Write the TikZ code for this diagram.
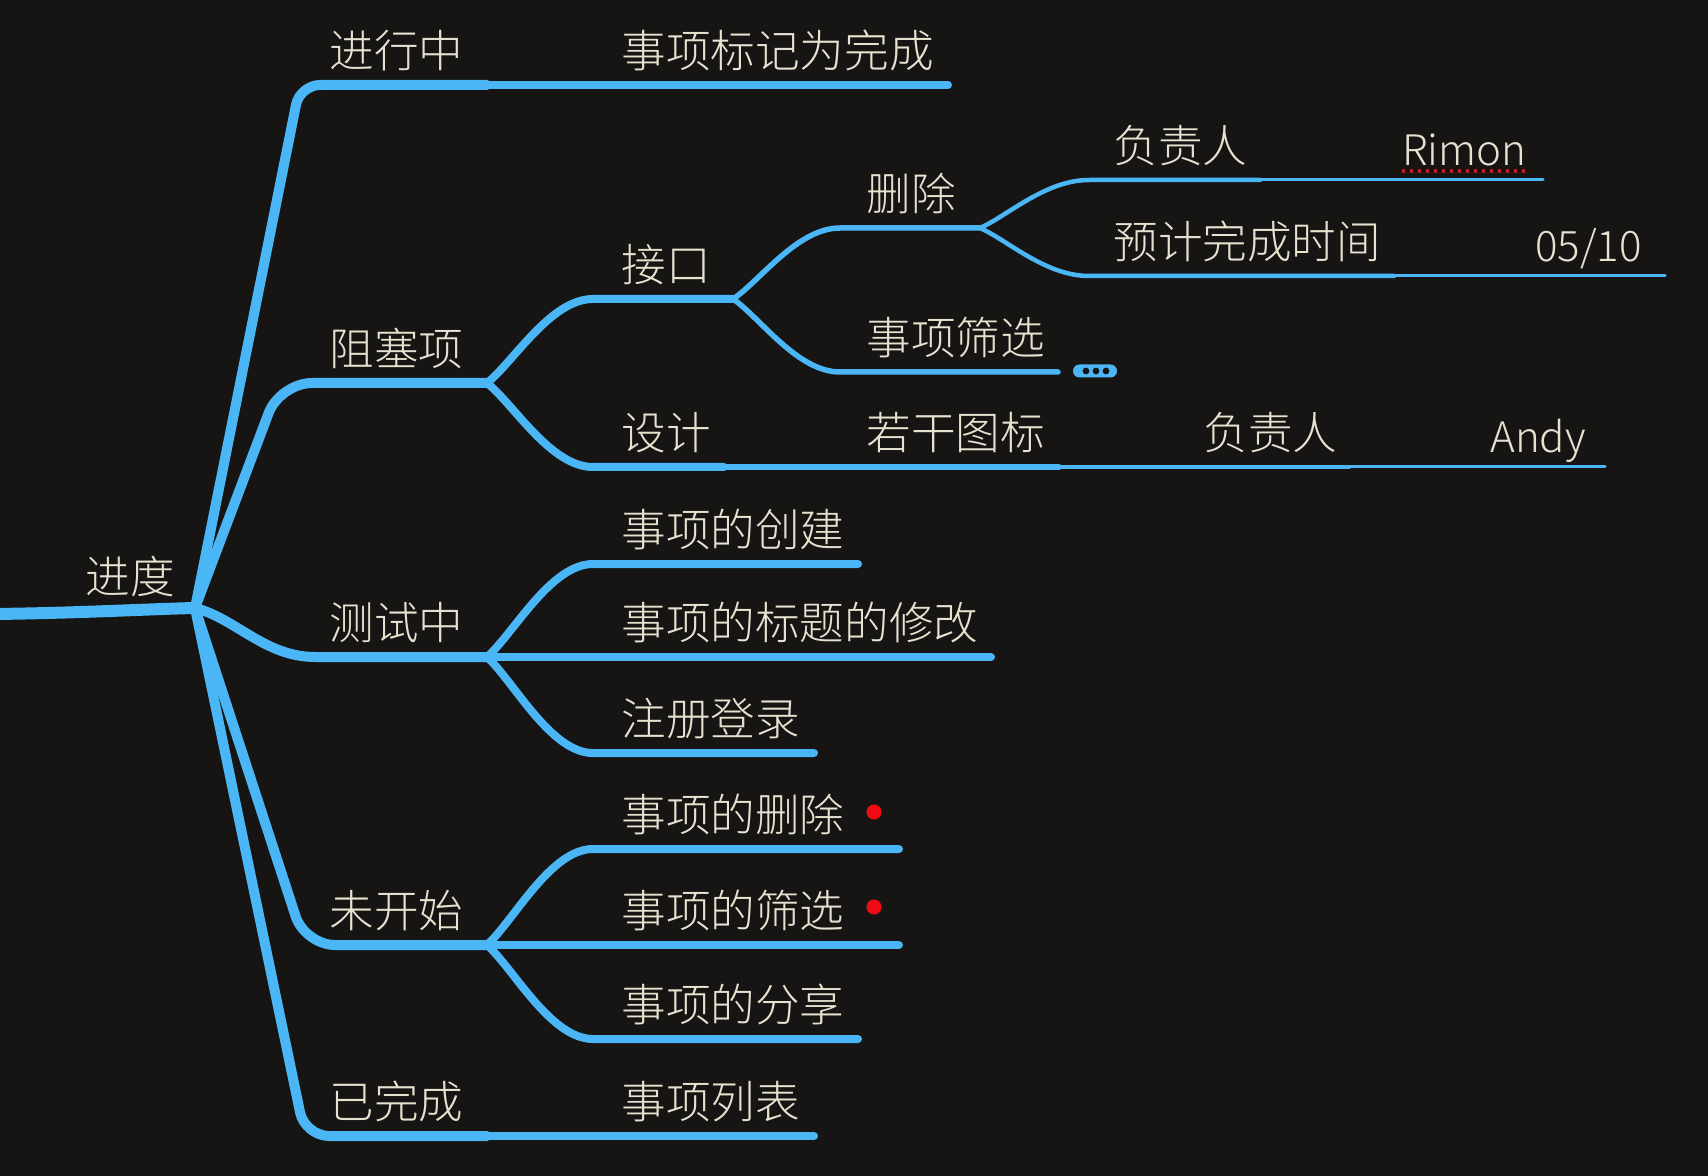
\documentclass[tikz,border=0pt]{standalone}
\usepackage{fontspec}
\IfFontExistsTF{Noto Sans CJK SC Light}
  {\setmainfont{Noto Sans CJK SC Light}}
  {\setmainfont{Noto Sans CJK SC}}
\definecolor{bgc}{RGB}{22,21,20}
\definecolor{blu}{RGB}{74,182,245}
\definecolor{txtc}{RGB}{230,226,208}
\definecolor{dotred}{RGB}{240,10,20}
\definecolor{ulred}{RGB}{190,30,40}
\begin{document}
\begin{tikzpicture}[x=0.5pt,y=-0.5pt,
  txt/.style={anchor=base west, inner sep=0pt, text=txtc, font=\fontsize{22.3pt}{26pt}\selectfont},
  lat/.style={anchor=base west, inner sep=0pt, text=txtc, font=\fontsize{21pt}{25pt}\selectfont},
  lroot/.style={draw=blu, line width=6pt, line cap=round},
  lone/.style={draw=blu, line width=5pt, line cap=round},
  ltwo/.style={draw=blu, line width=4pt, line cap=round},
  lthree/.style={draw=blu, line width=2.75pt, line cap=round},
  lfour/.style={draw=blu, line width=2.25pt, line cap=round},
  lfive/.style={draw=blu, line width=1.5pt, line cap=round},
  reddot/.style={circle, fill=dotred, minimum size=7.5pt, inner sep=0pt}]
\fill[bgc] (0,0) rectangle (1708,1176);
\useasboundingbox (0,0) rectangle (1708,1176);

% ---------- coordinates ----------
\coordinate (rootS) at (-6,614);
\coordinate (J) at (195,608);
% level 1
\coordinate (inV) at (300,85);   \coordinate (inE) at (487,85);
\coordinate (blV) at (280,383);  \coordinate (blE) at (487,383);
\coordinate (tsS) at (315,657);  \coordinate (tsE) at (487,657);
\coordinate (nsV) at (305,945);  \coordinate (nsE) at (487,945);
\coordinate (dnV) at (305,1136); \coordinate (dnE) at (487,1136);
% level 2
\coordinate (mkE) at (948,85);
\coordinate (ifS) at (593,299);  \coordinate (ifE) at (733,299);
\coordinate (dsS) at (593,467);  \coordinate (dsE) at (724,467);
\coordinate (crS) at (593,564);  \coordinate (crE) at (858,564);
\coordinate (tiE) at (991,657);
\coordinate (rgS) at (593,753);  \coordinate (rgE) at (814,753);
\coordinate (deS) at (593,849);  \coordinate (deE) at (899,849);
\coordinate (fiE) at (899,945);
\coordinate (shS) at (593,1039); \coordinate (shE) at (858,1039);
\coordinate (liE) at (814,1136);
% level 3
\coordinate (dlS) at (840,228);  \coordinate (dlE) at (980,228);
\coordinate (sfS) at (840,372);  \coordinate (sfE) at (1058,372);
\coordinate (icE) at (1059,467);
% level 4
\coordinate (o1S) at (1089,180); \coordinate (o1E) at (1260,180);
\coordinate (tmS) at (1089,276); \coordinate (tmE) at (1394,276);
\coordinate (o2E) at (1349,467);
% level 5
\coordinate (rmE) at (1543,180);
\coordinate (dtE) at (1665,276);
\coordinate (anE) at (1605,467);

% ---------- root ----------
\draw[lroot, line cap=butt] (rootS) .. controls (80,613) and (150,609) .. (J);

% ---------- root branches + level-1 lines ----------
\draw[lone, rounded corners=10pt] (J) -- (inV) -- (inE);
\draw[lone, rounded corners=16pt] (J) -- (blV) -- (blE);
\draw[lone] (J) .. controls (235,618) and (265,657) .. (tsS) -- (tsE);
\draw[lone, rounded corners=15pt] (J) -- (nsV) -- (nsE);
\draw[lone, rounded corners=12pt] (J) -- (dnV) -- (dnE);

% ---------- level 2 ----------
\draw[ltwo] (inE) -- (mkE);
\draw[ltwo] (blE) .. controls (513.5,362) and (550.6,299) .. (ifS) -- (ifE);
\draw[ltwo] (blE) .. controls (513.5,404) and (550.6,467) .. (dsS) -- (dsE);
\draw[ltwo] (tsE) .. controls (513.5,633.75) and (550.6,564) .. (crS) -- (crE);
\draw[ltwo] (tsE) -- (tiE);
\draw[ltwo] (tsE) .. controls (513.5,681) and (550.6,753) .. (rgS) -- (rgE);
\draw[ltwo] (nsE) .. controls (513.5,921) and (550.6,849) .. (deS) -- (deE);
\draw[ltwo] (nsE) -- (fiE);
\draw[ltwo] (nsE) .. controls (513.5,968.5) and (550.6,1039) .. (shS) -- (shE);
\draw[ltwo] (dnE) -- (liE);

% ---------- level 3 ----------
\draw[lthree] (ifE) .. controls (759.75,281.25) and (797.2,228) .. (dlS) -- (dlE);
\draw[lthree] (ifE) .. controls (759.75,317.25) and (797.2,372) .. (sfS) -- (sfE);
\draw[lthree] (dsE) -- (icE);

% ---------- level 4 ----------
\draw[lfour] (dlE) .. controls (1007.25,216) and (1045.4,180) .. (o1S) -- (o1E);
\draw[lfour] (dlE) .. controls (1007.25,240) and (1045.4,276) .. (tmS) -- (tmE);
\draw[lfour] (icE) -- (o2E);

% ---------- level 5 ----------
\draw[lfive] (o1E) -- (rmE);
\draw[lfive] (tmE) -- (dtE);
\draw[lfive] (o2E) -- (anE);

% ---------- texts ----------
\node[txt] (root) at (85,593) {进度};
\node[txt] (inprog) at (329,67.5) {进行中};
\node[txt] (blocked) at (329,365.5) {阻塞项};
\node[txt] (testing) at (329,639.5) {测试中};
\node[txt] (notstarted) at (329,927.5) {未开始};
\node[txt] (done) at (329,1118.5) {已完成};

\node[txt] (mark) at (621,67.5) {事项标记为完成};
\node[txt] (iface) at (621,281.5) {接口};
\node[txt] (design) at (621,449.5) {设计};
\node[txt] (create) at (621,546.5) {事项的创建};
\node[txt] (title) at (621,639.5) {事项的标题的修改};
\node[txt] (register) at (621,735.5) {注册登录};
\node[txt] (delitem) at (621,831.5) {事项的删除};
\node[txt] (filitem) at (621,927.5) {事项的筛选};
\node[txt] (share) at (621,1021.5) {事项的分享};
\node[txt] (list) at (621,1118.5) {事项列表};

\node[txt] (del) at (866,210.5) {删除};
\node[txt] (filter) at (866,354.5) {事项筛选};
\node[txt] (icons) at (866,449.5) {若干图标};

\node[txt] (owner1) at (1113,162.5) {负责人};
\node[txt] (eta) at (1113,258.5) {预计完成时间};
\node[txt] (owner2) at (1203,449.5) {负责人};

\node[lat] (rimon) at (1402,166) {Rimon};
\node[lat] (date) at (1535,262) {05/10};
\node[lat] (andy) at (1490,452) {Andy};

% spell-check underline
\draw[ulred, line width=1.6pt, dash pattern=on 1.5pt off 2.5pt]
  ([yshift=-2.5pt]rimon.base west) -- ([yshift=-2.5pt]rimon.base east);

% red markers
\node[reddot] (mark1) at (874,812) {};
\node[reddot] (mark2) at (874,907) {};

% collapsed indicator
\node[fill=blu, rounded corners=3.2pt, minimum width=22pt, minimum height=6.5pt, inner sep=0pt] (more) at (1095,371) {};
\fill[bgc] (1086,371) circle[radius=1.7pt];
\fill[bgc] (1096,371) circle[radius=1.7pt];
\fill[bgc] (1106,371) circle[radius=1.7pt];
\end{tikzpicture}
\end{document}
